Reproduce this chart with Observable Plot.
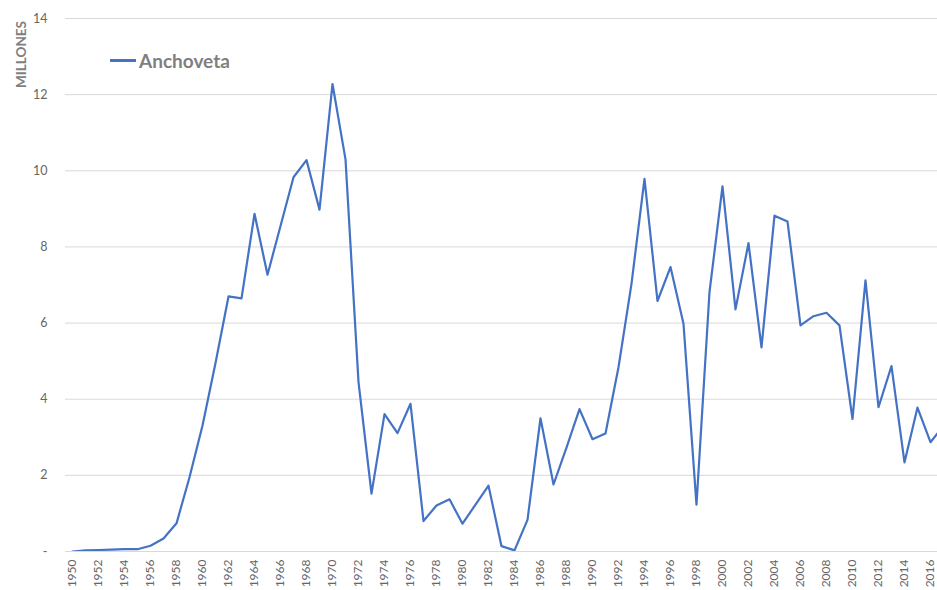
<!DOCTYPE html>
<html>
<head>
<meta charset="utf-8">
<script src="https://cdn.jsdelivr.net/npm/d3@7"></script>
<script src="https://cdn.jsdelivr.net/npm/@observablehq/plot@0.6"></script>
<style>
  html, body { margin: 0; padding: 0; background: #fff; overflow: hidden; }
  #wrap { position: relative; width: 937px; height: 590px; }
  #legend { position: absolute; left: 110px; top: 49px; display: flex; align-items: center;
            font-family: Lato, "Open Sans", sans-serif; font-weight: bold; font-size: 19px; color: #7f7f7f; }
  #legend .sw { width: 26px; height: 2.25px; background: #4472C4; margin-right: 3px; }
</style>
</head>
<body>
<div id="wrap">
  <div id="chart"></div>
  <div id="legend"><span class="sw"></span><span>Anchoveta</span></div>
</div>
<script>
const seriesName = "Anchoveta";
const axisTitle = "MILLONES";
const years = [1950,1951,1952,1953,1954,1955,1956,1957,1958,1959,
  1960,1961,1962,1963,1964,1965,1966,1967,1968,1969,
  1970,1971,1972,1973,1974,1975,1976,1977,1978,1979,
  1980,1981,1982,1983,1984,1985,1986,1987,1988,1989,
  1990,1991,1992,1993,1994,1995,1996,1997,1998,1999,
  2000,2001,2002,2003,2004,2005,2006,2007,2008,2009,
  2010,2011,2012,2013,2014,2015,2016,2017];
const anchoveta = [0.00,0.03,0.04,0.05,0.06,0.06,0.15,0.34,0.74,1.95,
  3.31,4.95,6.70,6.65,8.87,7.27,8.55,9.83,10.28,8.98,
  12.28,10.30,4.45,1.52,3.61,3.11,3.88,0.80,1.21,1.37,
  0.73,1.23,1.73,0.14,0.03,0.83,3.50,1.76,2.73,3.74,
  2.95,3.10,4.84,7.03,9.79,6.58,7.47,5.98,1.23,6.81,
  9.59,6.36,8.10,5.36,8.82,8.67,5.94,6.18,6.27,5.94,
  3.48,7.12,3.79,4.87,2.34,3.78,2.87,3.30];
const xTicks = [1950,1952,1954,1956,1958,1960,1962,1964,1966,1968,1970,1972,1974,1976,1978,
  1980,1982,1984,1986,1988,1990,1992,1994,1996,1998,2000,2002,2004,2006,2008,2010,2012,2014,2016];
const yTicks = [0,2,4,6,8,10,12,14];

const data = years.map((y, i) => ({year: y, value: anchoveta[i]}));

const chart = Plot.plot({
  width: 937,
  height: 590,
  marginLeft: 65,
  marginRight: 0,
  marginTop: 18,
  marginBottom: 39,
  style: {fontFamily: "Lato, 'Open Sans', sans-serif", fontSize: "12px", color: "#666", background: "#fff"},
  x: {domain: [1949.46, 2016.54]},
  y: {domain: [0, 14]},
  marks: [
    Plot.gridY(yTicks, {stroke: "#d9d9d9", strokeOpacity: 1, strokeWidth: 1}),
    Plot.axisY(yTicks, {tickSize: 0, tickPadding: 18, tickFormat: d => d === 0 ? "-" : String(d), label: null, fill: "#666", fontSize: 12.5}),
    Plot.axisX(xTicks, {tickSize: 0, tickPadding: 8, tickRotate: -90, tickFormat: d => String(d), label: null, fill: "#666", fontSize: 12}),
    Plot.line(data, {x: "year", y: "value", stroke: "#4472C4", strokeWidth: 2.2, strokeLinejoin: "round", clip: true}),
    Plot.text([axisTitle], {frameAnchor: "top-left", textAnchor: "middle", rotate: -90, dx: -49, dy: 36, fontWeight: "bold", fontSize: 13.5, fill: "#7f7f7f"})
  ]
});
document.getElementById("chart").appendChild(chart);
</script>
</body>
</html>
